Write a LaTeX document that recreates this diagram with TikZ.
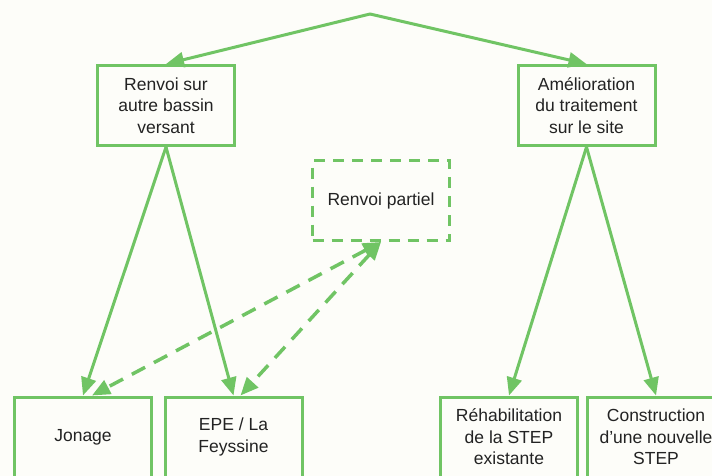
\documentclass[tikz,border=0pt]{standalone}
\usepackage{fontspec}
\setmainfont{Liberation Sans}
\usetikzlibrary{arrows.meta}
\definecolor{vert}{RGB}{112,196,100}
\definecolor{texte}{RGB}{35,35,35}
\definecolor{papier}{RGB}{253,253,249}

\begin{document}
\begin{tikzpicture}[x=1pt,y=-1pt,
  boite/.style={draw=vert,line width=3pt,minimum width=137pt,minimum height=80pt,
    align=center,text=texte,font=\fontsize{17.5}{21.5}\selectfont},
  tirets/.style={dash pattern=on 11pt off 8pt},
  pointe/.tip={Triangle[length=18pt,width=15pt]},
  fleche/.style={draw=vert,line width=3pt,line cap=round,-pointe}]
\clip (0,0) rectangle (712,476);
\fill[papier] (0,0) rectangle (712,476);

\coordinate (T) at (370,14);

\node[boite] (A1) at (166,105.5) {Renvoi sur\\autre bassin\\versant};
\node[boite] (A2) at (586.5,105.5) {Amélioration\\du traitement\\sur le site};
\node[boite,tirets] (C) at (381,200.5) {Renvoi partiel};

\node[boite] (B1) at (83,437) {Jonage};
\node[boite] (B2) at (233.5,437) {EPE / La\\Feyssine};
\node[boite] (B3) at (509,437) {Réhabilitation\\de la STEP\\existante};
\node[boite] (B4) at (656,437) {Construction\\d’une nouvelle\\STEP};

\draw[fleche] (T) -- (A1.north);
\draw[fleche] (T) -- (A2.north);

\draw[fleche] (A1.south) -- (B1.north);
\draw[fleche] (A1.south) -- (B2.north);
\draw[fleche] (A2.south) -- (B3.north);
\draw[fleche] (A2.south) -- (B4.north);

\draw[fleche,line width=3.5pt,dash pattern=on 15pt off 10pt,line cap=butt,pointe-pointe] (C.south) -- ([xshift=9pt]B1.north);
\draw[fleche,line width=3.5pt,dash pattern=on 15pt off 10pt,line cap=butt,pointe-pointe] (C.south) -- ([xshift=7pt]B2.north);
\end{tikzpicture}
\end{document}
